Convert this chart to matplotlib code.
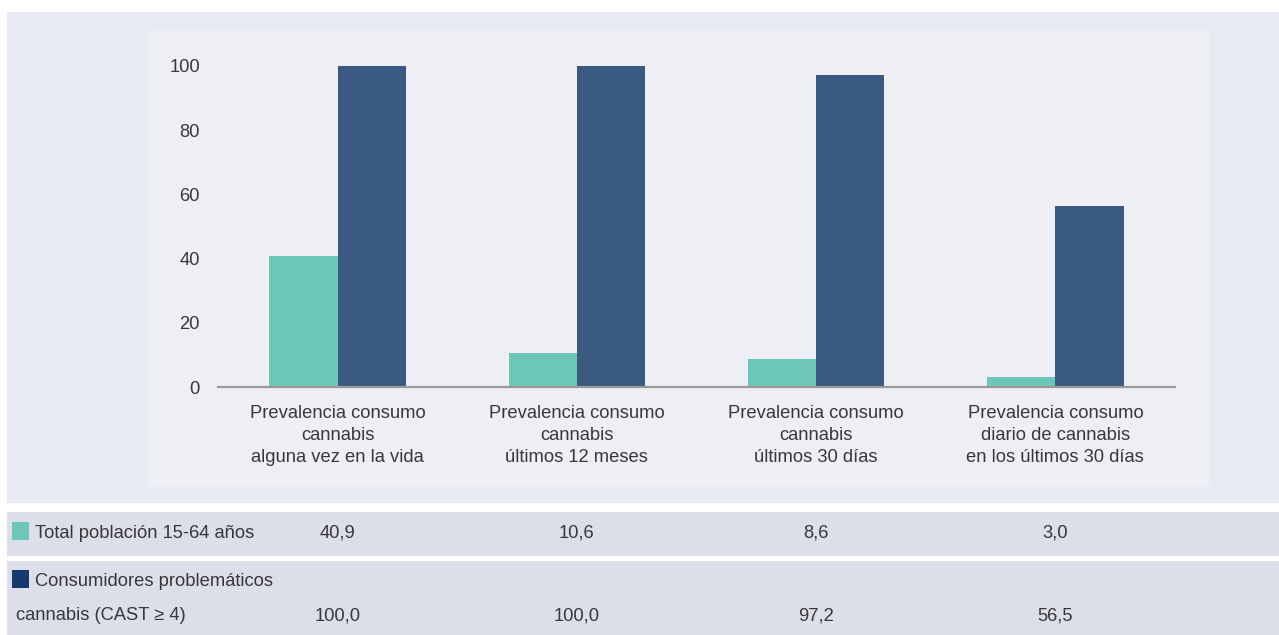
import numpy as np
import matplotlib
matplotlib.use('Agg')
import matplotlib.pyplot as plt
from matplotlib.patches import Rectangle

# Data
categories = ['Prevalencia consumo\ncannabis\nalguna vez en la vida',
              'Prevalencia consumo\ncannabis\núltimos 12 meses',
              'Prevalencia consumo\ncannabis\núltimos 30 días',
              'Prevalencia consumo\ndiario de cannabis\nen los últimos 30 días']
total_pob = [40.9, 10.6, 8.6, 3.0]
problematicos = [100.0, 100.0, 97.2, 56.5]
yticks = [0, 20, 40, 60, 80, 100]

# Styles
teal = '#6CC7B9'
navy = '#3B5A82'
navy_key = '#163A6D'
txt_col = '#383838'
fs = 13.2
W, H = 1279, 635

plt.rcParams['font.family'] = ['Liberation Sans', 'DejaVu Sans']

fig = plt.figure(figsize=(W / 100, H / 100), dpi=100)
fig.patch.set_facecolor('white')

def px_rect(x0, y0, x1, y1, color):
    # rectangle in pixel coords (y from top)
    fig.patches.append(Rectangle((x0 / W, 1 - y1 / H), (x1 - x0) / W, (y1 - y0) / H,
                                 transform=fig.transFigure, facecolor=color,
                                 edgecolor='none', zorder=-10))

px_rect(7, 12, W, 503, '#E8EBF3')
px_rect(149, 30, 1210, 486, '#EEEFF4')
px_rect(7, 512, W, 556, '#DCDEEA')
px_rect(7, 561, W, H, '#DCDEEA')

# Axes: x from 218 to 1175 px, y zero at 387, 100 at 66
ax = fig.add_axes([218 / W, 1 - 387 / H, (1175 - 218) / W, (387 - 66) / H])
ax.set_zorder(5)
ax.set_facecolor('none')
x = np.arange(len(categories))
bw = 0.285
ax.bar(x - bw / 2, total_pob, width=bw, color=teal, zorder=2)
ax.bar(x + bw / 2, problematicos, width=bw, color=navy, zorder=2)
ax.set_xlim(-0.5, len(categories) - 0.5)
ax.set_ylim(0, 100)
for s in ['top', 'right', 'left']:
    ax.spines[s].set_visible(False)
ax.spines['bottom'].set_color('#9A9A9A')
ax.spines['bottom'].set_linewidth(1.6)
ax.spines['bottom'].set_zorder(3)
ax.set_yticks(yticks)
ax.set_yticklabels([str(v) for v in yticks], fontsize=fs, color=txt_col)
ax.tick_params(axis='y', length=0, pad=13)
ax.set_xticks(x)
ax.set_xticklabels(categories, fontsize=fs, color=txt_col, linespacing=1.4)
ax.tick_params(axis='x', length=0, pad=13)

# Table below
def fig_text(px, py, s, ha='left'):
    fig.text(px / W, 1 - py / H, s, ha=ha, va='center', fontsize=fs, color=txt_col)

centers = [ax.transData.transform((xi, 0))[0] for xi in x]
px_rect(12, 522, 29, 540, teal)
fig_text(35, 533, 'Total población 15-64 años')
px_rect(12, 570, 29, 588, navy_key)
fig_text(35, 582, 'Consumidores problemáticos')
fig_text(16, 616, 'cannabis (CAST ≥ 4)')
for c, v1, v2 in zip(centers, total_pob, problematicos):
    fig_text(c, 533, f'{v1:.1f}'.replace('.', ','), ha='center')
    fig_text(c, 616, f'{v2:.1f}'.replace('.', ','), ha='center')

plt.savefig('out.png', dpi=100, facecolor=fig.get_facecolor())
